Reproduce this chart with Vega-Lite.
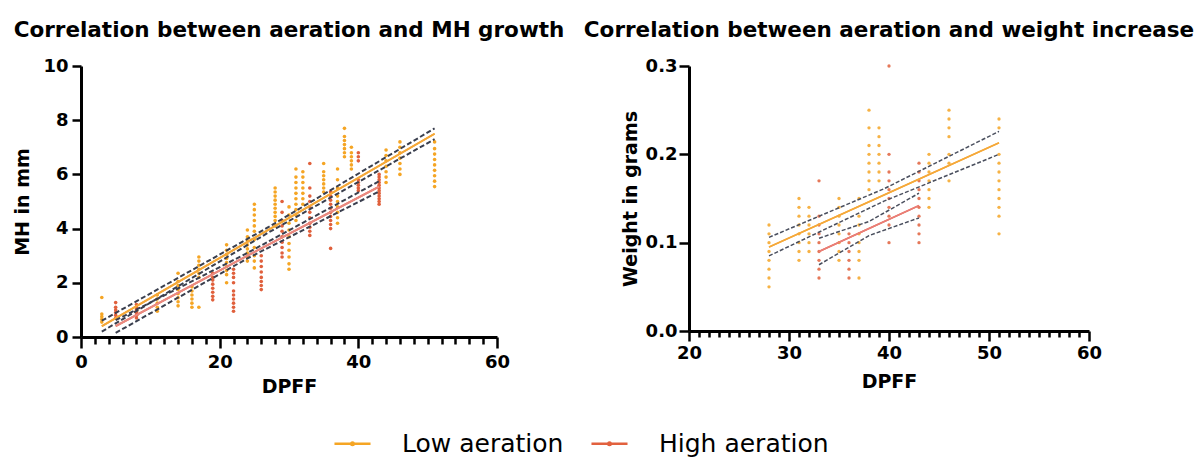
{
 "$schema": "https://vega.github.io/schema/vega-lite/v6.json",
 "background": "white",
 "padding": {"left": 13, "top": 19, "right": 5, "bottom": 5},
 "spacing": 18,
 "config": {
  "view": {"stroke": null},
  "font": "DejaVu Sans",
  "axis": {"domainColor": "black", "domainWidth": 3, "tickColor": "black", "tickWidth": 2.5, "labelFont": "DejaVu Sans", "labelFontWeight": "bold", "labelFontSize": 18, "labelColor": "black", "titleFont": "DejaVu Sans", "titleFontSize": 19, "titleFontWeight": "bold", "titleColor": "black", "grid": false, "labelOverlap": false, "labelFlush": false},
  "title": {"fontSize": 21.5, "fontWeight": "bold", "font": "DejaVu Sans", "color": "black", "frame": "group", "anchor": "middle", "offset": 16}
 },
 "datasets": {
  "mh": [
   {"g":"Low aeration","x":3,"y":0.55},{"g":"Low aeration","x":3,"y":0.65},{"g":"Low aeration","x":3,"y":0.75},{"g":"Low aeration","x":3,"y":0.85},{"g":"Low aeration","x":3,"y":1.46},
   {"g":"Low aeration","x":8,"y":0.8},{"g":"Low aeration","x":8,"y":0.95},{"g":"Low aeration","x":8,"y":1.1},
   {"g":"Low aeration","x":11,"y":0.95},{"g":"Low aeration","x":11,"y":1.1},{"g":"Low aeration","x":11,"y":1.25},{"g":"Low aeration","x":11,"y":1.4},{"g":"Low aeration","x":11,"y":1.55},
   {"g":"Low aeration","x":14,"y":1.15},{"g":"Low aeration","x":14,"y":1.3},{"g":"Low aeration","x":14,"y":1.45},{"g":"Low aeration","x":14,"y":1.6},{"g":"Low aeration","x":14,"y":1.75},{"g":"Low aeration","x":14,"y":1.9},{"g":"Low aeration","x":14,"y":2.05},{"g":"Low aeration","x":14,"y":2.35},
   {"g":"Low aeration","x":16,"y":1.1},{"g":"Low aeration","x":16,"y":1.25},{"g":"Low aeration","x":16,"y":1.4},{"g":"Low aeration","x":16,"y":1.55},{"g":"Low aeration","x":16,"y":1.7},{"g":"Low aeration","x":16,"y":1.85},
   {"g":"Low aeration","x":17,"y":1.1},{"g":"Low aeration","x":17,"y":2.2},{"g":"Low aeration","x":17,"y":2.35},{"g":"Low aeration","x":17,"y":2.5},{"g":"Low aeration","x":17,"y":2.65},{"g":"Low aeration","x":17,"y":2.8},{"g":"Low aeration","x":17,"y":2.95},
   {"g":"Low aeration","x":21,"y":2.0},{"g":"Low aeration","x":21,"y":2.3},{"g":"Low aeration","x":21,"y":2.45},{"g":"Low aeration","x":21,"y":2.6},{"g":"Low aeration","x":21,"y":2.75},{"g":"Low aeration","x":21,"y":2.9},{"g":"Low aeration","x":21,"y":3.05},{"g":"Low aeration","x":21,"y":3.2},{"g":"Low aeration","x":21,"y":3.4},
   {"g":"Low aeration","x":24,"y":2.8},{"g":"Low aeration","x":24,"y":2.95},{"g":"Low aeration","x":24,"y":3.1},{"g":"Low aeration","x":24,"y":3.25},{"g":"Low aeration","x":24,"y":3.4},{"g":"Low aeration","x":24,"y":3.55},{"g":"Low aeration","x":24,"y":3.7},{"g":"Low aeration","x":24,"y":3.95},
   {"g":"Low aeration","x":25,"y":2.55},{"g":"Low aeration","x":25,"y":2.8},{"g":"Low aeration","x":25,"y":3.0},{"g":"Low aeration","x":25,"y":3.3},{"g":"Low aeration","x":25,"y":3.6},{"g":"Low aeration","x":25,"y":3.9},{"g":"Low aeration","x":25,"y":4.1},{"g":"Low aeration","x":25,"y":4.3},{"g":"Low aeration","x":25,"y":4.5},{"g":"Low aeration","x":25,"y":4.7},{"g":"Low aeration","x":25,"y":4.9},
   {"g":"Low aeration","x":28,"y":4.1},{"g":"Low aeration","x":28,"y":4.3},{"g":"Low aeration","x":28,"y":4.45},{"g":"Low aeration","x":28,"y":4.6},{"g":"Low aeration","x":28,"y":4.75},{"g":"Low aeration","x":28,"y":4.9},{"g":"Low aeration","x":28,"y":5.05},{"g":"Low aeration","x":28,"y":5.2},{"g":"Low aeration","x":28,"y":5.35},{"g":"Low aeration","x":28,"y":5.5},
   {"g":"Low aeration","x":30,"y":2.5},{"g":"Low aeration","x":30,"y":2.7},{"g":"Low aeration","x":30,"y":2.95},{"g":"Low aeration","x":30,"y":3.2},{"g":"Low aeration","x":30,"y":3.45},{"g":"Low aeration","x":30,"y":3.7},{"g":"Low aeration","x":30,"y":3.95},{"g":"Low aeration","x":30,"y":4.2},{"g":"Low aeration","x":30,"y":4.5},{"g":"Low aeration","x":30,"y":4.8},
   {"g":"Low aeration","x":31,"y":4.3},{"g":"Low aeration","x":31,"y":4.5},{"g":"Low aeration","x":31,"y":4.7},{"g":"Low aeration","x":31,"y":4.9},{"g":"Low aeration","x":31,"y":5.1},{"g":"Low aeration","x":31,"y":5.3},{"g":"Low aeration","x":31,"y":5.5},{"g":"Low aeration","x":31,"y":5.7},{"g":"Low aeration","x":31,"y":5.9},{"g":"Low aeration","x":31,"y":6.2},
   {"g":"Low aeration","x":32,"y":4.9},{"g":"Low aeration","x":32,"y":5.1},{"g":"Low aeration","x":32,"y":5.3},{"g":"Low aeration","x":32,"y":5.5},{"g":"Low aeration","x":32,"y":5.7},{"g":"Low aeration","x":32,"y":5.9},{"g":"Low aeration","x":32,"y":6.1},
   {"g":"Low aeration","x":35,"y":5.35},{"g":"Low aeration","x":35,"y":5.5},{"g":"Low aeration","x":35,"y":5.65},{"g":"Low aeration","x":35,"y":5.8},{"g":"Low aeration","x":35,"y":5.95},{"g":"Low aeration","x":35,"y":6.1},{"g":"Low aeration","x":35,"y":6.4},
   {"g":"Low aeration","x":37,"y":4.2},{"g":"Low aeration","x":37,"y":4.4},{"g":"Low aeration","x":37,"y":4.6},{"g":"Low aeration","x":37,"y":4.8},{"g":"Low aeration","x":37,"y":5.0},{"g":"Low aeration","x":37,"y":5.2},{"g":"Low aeration","x":37,"y":5.5},{"g":"Low aeration","x":37,"y":5.8},{"g":"Low aeration","x":37,"y":6.2},
   {"g":"Low aeration","x":38,"y":6.65},{"g":"Low aeration","x":38,"y":6.8},{"g":"Low aeration","x":38,"y":6.95},{"g":"Low aeration","x":38,"y":7.1},{"g":"Low aeration","x":38,"y":7.25},{"g":"Low aeration","x":38,"y":7.4},{"g":"Low aeration","x":38,"y":7.7},
   {"g":"Low aeration","x":39,"y":6.2},{"g":"Low aeration","x":39,"y":6.35},{"g":"Low aeration","x":39,"y":6.5},{"g":"Low aeration","x":39,"y":6.65},{"g":"Low aeration","x":39,"y":6.8},{"g":"Low aeration","x":39,"y":7.0},
   {"g":"Low aeration","x":44,"y":5.7},{"g":"Low aeration","x":44,"y":5.9},{"g":"Low aeration","x":44,"y":6.1},{"g":"Low aeration","x":44,"y":6.3},{"g":"Low aeration","x":44,"y":6.5},{"g":"Low aeration","x":44,"y":6.7},{"g":"Low aeration","x":44,"y":6.9},
   {"g":"Low aeration","x":46,"y":6.0},{"g":"Low aeration","x":46,"y":6.2},{"g":"Low aeration","x":46,"y":6.4},{"g":"Low aeration","x":46,"y":6.6},{"g":"Low aeration","x":46,"y":6.8},{"g":"Low aeration","x":46,"y":7.0},{"g":"Low aeration","x":46,"y":7.2},
   {"g":"Low aeration","x":51,"y":5.55},{"g":"Low aeration","x":51,"y":5.75},{"g":"Low aeration","x":51,"y":5.95},{"g":"Low aeration","x":51,"y":6.15},{"g":"Low aeration","x":51,"y":6.35},{"g":"Low aeration","x":51,"y":6.55},{"g":"Low aeration","x":51,"y":6.75},{"g":"Low aeration","x":51,"y":6.95},{"g":"Low aeration","x":51,"y":7.2},
   {"g":"High aeration","x":5,"y":0.7},{"g":"High aeration","x":5,"y":0.8},{"g":"High aeration","x":5,"y":0.9},{"g":"High aeration","x":5,"y":1.0},{"g":"High aeration","x":5,"y":1.1},{"g":"High aeration","x":5,"y":1.27},
   {"g":"High aeration","x":8,"y":0.7},{"g":"High aeration","x":8,"y":0.8},{"g":"High aeration","x":8,"y":0.9},{"g":"High aeration","x":8,"y":1.0},{"g":"High aeration","x":8,"y":1.1},{"g":"High aeration","x":8,"y":1.2},
   {"g":"High aeration","x":19,"y":1.37},{"g":"High aeration","x":19,"y":1.5},{"g":"High aeration","x":19,"y":1.65},{"g":"High aeration","x":19,"y":1.8},{"g":"High aeration","x":19,"y":1.95},{"g":"High aeration","x":19,"y":2.1},{"g":"High aeration","x":19,"y":2.2},{"g":"High aeration","x":19,"y":2.35},
   {"g":"High aeration","x":22,"y":0.95},{"g":"High aeration","x":22,"y":1.1},{"g":"High aeration","x":22,"y":1.25},{"g":"High aeration","x":22,"y":1.4},{"g":"High aeration","x":22,"y":1.55},{"g":"High aeration","x":22,"y":1.7},{"g":"High aeration","x":22,"y":2.0},{"g":"High aeration","x":22,"y":2.2},{"g":"High aeration","x":22,"y":2.35},{"g":"High aeration","x":22,"y":2.5},
   {"g":"High aeration","x":26,"y":1.75},{"g":"High aeration","x":26,"y":1.9},{"g":"High aeration","x":26,"y":2.05},{"g":"High aeration","x":26,"y":2.2},{"g":"High aeration","x":26,"y":2.4},{"g":"High aeration","x":26,"y":2.6},{"g":"High aeration","x":26,"y":2.8},{"g":"High aeration","x":26,"y":3.0},
   {"g":"High aeration","x":29,"y":2.95},{"g":"High aeration","x":29,"y":3.1},{"g":"High aeration","x":29,"y":3.3},{"g":"High aeration","x":29,"y":3.5},{"g":"High aeration","x":29,"y":3.7},{"g":"High aeration","x":29,"y":3.9},{"g":"High aeration","x":29,"y":4.1},{"g":"High aeration","x":29,"y":4.3},{"g":"High aeration","x":29,"y":4.6},{"g":"High aeration","x":29,"y":5.0},
   {"g":"High aeration","x":33,"y":3.75},{"g":"High aeration","x":33,"y":3.9},{"g":"High aeration","x":33,"y":4.05},{"g":"High aeration","x":33,"y":4.2},{"g":"High aeration","x":33,"y":4.4},{"g":"High aeration","x":33,"y":4.6},{"g":"High aeration","x":33,"y":4.8},{"g":"High aeration","x":33,"y":5.0},{"g":"High aeration","x":33,"y":5.2},{"g":"High aeration","x":33,"y":5.5},{"g":"High aeration","x":33,"y":6.4},
   {"g":"High aeration","x":36,"y":3.27},{"g":"High aeration","x":36,"y":4.0},{"g":"High aeration","x":36,"y":4.15},{"g":"High aeration","x":36,"y":4.3},{"g":"High aeration","x":36,"y":4.45},{"g":"High aeration","x":36,"y":4.6},{"g":"High aeration","x":36,"y":4.75},{"g":"High aeration","x":36,"y":4.9},{"g":"High aeration","x":36,"y":5.05},{"g":"High aeration","x":36,"y":5.2},{"g":"High aeration","x":36,"y":5.36},
   {"g":"High aeration","x":40,"y":5.4},{"g":"High aeration","x":40,"y":5.5},{"g":"High aeration","x":40,"y":5.6},{"g":"High aeration","x":40,"y":5.7},{"g":"High aeration","x":40,"y":5.8},{"g":"High aeration","x":40,"y":6.5},{"g":"High aeration","x":40,"y":6.65},{"g":"High aeration","x":40,"y":6.8},
   {"g":"High aeration","x":43,"y":4.9},{"g":"High aeration","x":43,"y":5.0},{"g":"High aeration","x":43,"y":5.1},{"g":"High aeration","x":43,"y":5.2},{"g":"High aeration","x":43,"y":5.3},{"g":"High aeration","x":43,"y":5.4},{"g":"High aeration","x":43,"y":5.5},{"g":"High aeration","x":43,"y":5.6},{"g":"High aeration","x":43,"y":5.7},{"g":"High aeration","x":43,"y":5.8},{"g":"High aeration","x":43,"y":5.9},{"g":"High aeration","x":43,"y":6.0}
  ],
  "mhfit": [
   {"g":"Low aeration","x":3,"fit":0.4,"lo":0.2,"hi":0.6},
   {"g":"Low aeration","x":27,"fit":3.95,"lo":3.85,"hi":4.05},
   {"g":"Low aeration","x":51,"fit":7.5,"lo":7.3,"hi":7.7},
   {"g":"High aeration","x":5,"fit":0.4,"lo":0.15,"hi":0.62},
   {"g":"High aeration","x":24,"fit":3.0,"lo":2.9,"hi":3.1},
   {"g":"High aeration","x":43,"fit":5.55,"lo":5.37,"hi":5.75}
  ],
  "wt": [
   {"g":"Low aeration","x":28,"y":0.05},{"g":"Low aeration","x":28,"y":0.06},{"g":"Low aeration","x":28,"y":0.07},{"g":"Low aeration","x":28,"y":0.08},{"g":"Low aeration","x":28,"y":0.09},{"g":"Low aeration","x":28,"y":0.10},{"g":"Low aeration","x":28,"y":0.11},{"g":"Low aeration","x":28,"y":0.12},
   {"g":"Low aeration","x":31,"y":0.08},{"g":"Low aeration","x":31,"y":0.09},{"g":"Low aeration","x":31,"y":0.10},{"g":"Low aeration","x":31,"y":0.11},{"g":"Low aeration","x":31,"y":0.12},{"g":"Low aeration","x":31,"y":0.13},{"g":"Low aeration","x":31,"y":0.14},{"g":"Low aeration","x":31,"y":0.15},
   {"g":"Low aeration","x":32,"y":0.09},{"g":"Low aeration","x":32,"y":0.10},{"g":"Low aeration","x":32,"y":0.11},{"g":"Low aeration","x":32,"y":0.12},{"g":"Low aeration","x":32,"y":0.13},{"g":"Low aeration","x":32,"y":0.14},
   {"g":"Low aeration","x":35,"y":0.08},{"g":"Low aeration","x":35,"y":0.09},{"g":"Low aeration","x":35,"y":0.10},{"g":"Low aeration","x":35,"y":0.11},{"g":"Low aeration","x":35,"y":0.12},{"g":"Low aeration","x":35,"y":0.13},{"g":"Low aeration","x":35,"y":0.14},{"g":"Low aeration","x":35,"y":0.15},
   {"g":"Low aeration","x":37,"y":0.06},{"g":"Low aeration","x":37,"y":0.08},{"g":"Low aeration","x":37,"y":0.09},{"g":"Low aeration","x":37,"y":0.10},{"g":"Low aeration","x":37,"y":0.11},{"g":"Low aeration","x":37,"y":0.12},{"g":"Low aeration","x":37,"y":0.13},{"g":"Low aeration","x":37,"y":0.15},
   {"g":"Low aeration","x":38,"y":0.16},{"g":"Low aeration","x":38,"y":0.17},{"g":"Low aeration","x":38,"y":0.18},{"g":"Low aeration","x":38,"y":0.19},{"g":"Low aeration","x":38,"y":0.20},{"g":"Low aeration","x":38,"y":0.21},{"g":"Low aeration","x":38,"y":0.23},{"g":"Low aeration","x":38,"y":0.25},
   {"g":"Low aeration","x":39,"y":0.17},{"g":"Low aeration","x":39,"y":0.18},{"g":"Low aeration","x":39,"y":0.19},{"g":"Low aeration","x":39,"y":0.20},{"g":"Low aeration","x":39,"y":0.21},{"g":"Low aeration","x":39,"y":0.22},{"g":"Low aeration","x":39,"y":0.23},
   {"g":"Low aeration","x":44,"y":0.14},{"g":"Low aeration","x":44,"y":0.15},{"g":"Low aeration","x":44,"y":0.16},{"g":"Low aeration","x":44,"y":0.17},{"g":"Low aeration","x":44,"y":0.18},{"g":"Low aeration","x":44,"y":0.19},{"g":"Low aeration","x":44,"y":0.20},
   {"g":"Low aeration","x":46,"y":0.17},{"g":"Low aeration","x":46,"y":0.19},{"g":"Low aeration","x":46,"y":0.20},{"g":"Low aeration","x":46,"y":0.22},{"g":"Low aeration","x":46,"y":0.23},{"g":"Low aeration","x":46,"y":0.24},{"g":"Low aeration","x":46,"y":0.25},
   {"g":"Low aeration","x":51,"y":0.11},{"g":"Low aeration","x":51,"y":0.13},{"g":"Low aeration","x":51,"y":0.14},{"g":"Low aeration","x":51,"y":0.15},{"g":"Low aeration","x":51,"y":0.16},{"g":"Low aeration","x":51,"y":0.17},{"g":"Low aeration","x":51,"y":0.18},{"g":"Low aeration","x":51,"y":0.19},{"g":"Low aeration","x":51,"y":0.20},{"g":"Low aeration","x":51,"y":0.23},{"g":"Low aeration","x":51,"y":0.24},
   {"g":"High aeration","x":33,"y":0.06},{"g":"High aeration","x":33,"y":0.07},{"g":"High aeration","x":33,"y":0.08},{"g":"High aeration","x":33,"y":0.09},{"g":"High aeration","x":33,"y":0.10},{"g":"High aeration","x":33,"y":0.11},{"g":"High aeration","x":33,"y":0.12},{"g":"High aeration","x":33,"y":0.13},{"g":"High aeration","x":33,"y":0.17},
   {"g":"High aeration","x":36,"y":0.06},{"g":"High aeration","x":36,"y":0.07},{"g":"High aeration","x":36,"y":0.08},{"g":"High aeration","x":36,"y":0.09},{"g":"High aeration","x":36,"y":0.10},{"g":"High aeration","x":36,"y":0.11},
   {"g":"High aeration","x":40,"y":0.10},{"g":"High aeration","x":40,"y":0.12},{"g":"High aeration","x":40,"y":0.13},{"g":"High aeration","x":40,"y":0.14},{"g":"High aeration","x":40,"y":0.15},{"g":"High aeration","x":40,"y":0.16},{"g":"High aeration","x":40,"y":0.17},{"g":"High aeration","x":40,"y":0.18},{"g":"High aeration","x":40,"y":0.20},{"g":"High aeration","x":40,"y":0.30},
   {"g":"High aeration","x":43,"y":0.10},{"g":"High aeration","x":43,"y":0.11},{"g":"High aeration","x":43,"y":0.12},{"g":"High aeration","x":43,"y":0.13},{"g":"High aeration","x":43,"y":0.14},{"g":"High aeration","x":43,"y":0.15},{"g":"High aeration","x":43,"y":0.16},{"g":"High aeration","x":43,"y":0.17},{"g":"High aeration","x":43,"y":0.18},{"g":"High aeration","x":43,"y":0.19}
  ],
  "wtfit": [
   {"g":"Low aeration","x":28,"fit":0.095,"lo":0.085,"hi":0.106},
   {"g":"Low aeration","x":39.5,"fit":0.154,"lo":0.147,"hi":0.161},
   {"g":"Low aeration","x":51,"fit":0.213,"lo":0.2,"hi":0.226},
   {"g":"High aeration","x":33,"fit":0.09,"lo":0.075,"hi":0.105},
   {"g":"High aeration","x":38,"fit":0.116,"lo":0.108,"hi":0.124},
   {"g":"High aeration","x":43,"fit":0.142,"lo":0.128,"hi":0.156}
  ]
 },
 "hconcat": [
  {
   "title": {"text": "Correlation between aeration and MH growth"},
   "width": 416,
   "height": 271,
   "layer": [
    {
     "data": {"name": "mh"},
     "mark": {"type": "circle", "size": 13, "opacity": 1},
     "encoding": {
      "x": {"field": "x", "type": "quantitative", "scale": {"domain": [0, 60], "nice": false}, "axis": {"title": "DPFF", "format": "d", "labelOverlap": false, "tickCount": 100, "values": [0,2,4,6,8,10,12,14,16,18,20,22,24,26,28,30,32,34,36,38,40,42,44,46,48,50,52,54,56,58,60], "labelExpr": "datum.value % 20 === 0 ? datum.label : ''", "tickSize": {"condition": {"test": "datum.value % 20 === 0", "value": 11}, "value": 7}, "labelPadding": 5, "titlePadding": 6}},
      "y": {"field": "y", "type": "quantitative", "scale": {"domain": [0, 10], "nice": false}, "axis": {"title": "MH in mm", "format": "d", "labelOverlap": false, "tickCount": 100, "values": [0,2,4,6,8,10], "tickSize": 9, "labelPadding": 4, "titlePadding": 10}},
      "color": {"field": "g", "type": "nominal", "scale": {"domain": ["Low aeration", "High aeration"], "range": ["#F5A524", "#E0603C"]},
       "legend": {"orient": "none", "legendX": 252, "legendY": 358, "direction": "horizontal", "title": null, "symbolType": "M-1,0H1M-0.07,0A0.07,0.07 0 1,0 0.07,0A0.07,0.07 0 1,0 -0.07,0", "symbolSize": 1300, "symbolStrokeWidth": 2.5, "labelFontSize": 25, "labelFont": "DejaVu Sans", "labelFontWeight": "normal", "labelColor": "black", "labelOffset": 30, "labelLimit": 400, "columnPadding": 22}}
     }
    },
    {
     "data": {"name": "mhfit"},
     "mark": {"type": "line", "strokeWidth": 1.8},
     "encoding": {
      "x": {"field": "x", "type": "quantitative"},
      "y": {"field": "fit", "type": "quantitative"},
      "stroke": {"field": "g", "type": "nominal", "scale": {"domain": ["Low aeration", "High aeration"], "range": ["#F5A524", "#E2613E"]}, "legend": null}
     }
    },
    {
     "data": {"name": "mhfit"},
     "transform": [{"filter": "datum.g === 'Low aeration'"}],
     "mark": {"type": "line", "strokeWidth": 2, "color": "#F5A83A"},
     "encoding": {
      "x": {"field": "x", "type": "quantitative"},
      "y": {"field": "fit", "type": "quantitative"}
     }
    },
    {
     "data": {"name": "mhfit"},
     "transform": [{"filter": "datum.g === 'High aeration'"}],
     "mark": {"type": "line", "strokeWidth": 2, "color": "#EA8A82"},
     "encoding": {
      "x": {"field": "x", "type": "quantitative"},
      "y": {"field": "fit", "type": "quantitative"}
     }
    },
    {
     "data": {"name": "mhfit"},
     "mark": {"type": "line", "strokeWidth": 2, "color": "#3A3F4E", "strokeDash": [5, 2.5]},
     "encoding": {
      "x": {"field": "x", "type": "quantitative"},
      "y": {"field": "lo", "type": "quantitative"},
      "detail": {"field": "g", "type": "nominal"}
     }
    },
    {
     "data": {"name": "mhfit"},
     "mark": {"type": "line", "strokeWidth": 2, "color": "#3A3F4E", "strokeDash": [5, 2.5]},
     "encoding": {
      "x": {"field": "x", "type": "quantitative"},
      "y": {"field": "hi", "type": "quantitative"},
      "detail": {"field": "g", "type": "nominal"}
     }
    }
   ]
  },
  {
   "title": {"text": "Correlation between aeration and weight increase"},
   "width": 400,
   "height": 265,
   "layer": [
    {
     "data": {"name": "wt"},
     "mark": {"type": "circle", "size": 11, "opacity": 0.85},
     "encoding": {
      "x": {"field": "x", "type": "quantitative", "scale": {"domain": [20, 60], "nice": false, "zero": false}, "axis": {"title": "DPFF", "format": "d", "labelOverlap": false, "tickCount": 100, "values": [20,21,22,23,24,25,26,27,28,29,30,31,32,33,34,35,36,37,38,39,40,41,42,43,44,45,46,47,48,49,50,51,52,53,54,55,56,57,58,59,60], "labelExpr": "datum.value % 10 === 0 ? datum.label : ''", "tickSize": {"condition": {"test": "datum.value % 10 === 0", "value": 10}, "value": 6}, "labelPadding": 3, "titlePadding": 10}},
      "y": {"field": "y", "type": "quantitative", "scale": {"domain": [0, 0.3], "nice": false}, "axis": {"title": "Weight in grams", "labelOverlap": false, "tickCount": 100, "values": [0, 0.1, 0.2, 0.3], "format": ".1f", "tickSize": 10, "labelPadding": 2, "titlePadding": 5}},
      "color": {"field": "g", "type": "nominal"}
     }
    },
    {
     "data": {"name": "wtfit"},
     "mark": {"type": "line", "strokeWidth": 1.5},
     "encoding": {
      "x": {"field": "x", "type": "quantitative"},
      "y": {"field": "fit", "type": "quantitative"},
      "stroke": {"field": "g", "type": "nominal", "legend": null}
     }
    },
    {
     "data": {"name": "wtfit"},
     "transform": [{"filter": "datum.g === 'Low aeration'"}],
     "mark": {"type": "line", "strokeWidth": 1.7, "color": "#F5A83A"},
     "encoding": {
      "x": {"field": "x", "type": "quantitative"},
      "y": {"field": "fit", "type": "quantitative"}
     }
    },
    {
     "data": {"name": "wtfit"},
     "transform": [{"filter": "datum.g === 'High aeration'"}],
     "mark": {"type": "line", "strokeWidth": 1.7, "color": "#EA7E78"},
     "encoding": {
      "x": {"field": "x", "type": "quantitative"},
      "y": {"field": "fit", "type": "quantitative"}
     }
    },
    {
     "data": {"name": "wtfit"},
     "mark": {"type": "line", "strokeWidth": 1.5, "color": "#4A4F5E", "strokeDash": [4, 2]},
     "encoding": {
      "x": {"field": "x", "type": "quantitative"},
      "y": {"field": "lo", "type": "quantitative"},
      "detail": {"field": "g", "type": "nominal"}
     }
    },
    {
     "data": {"name": "wtfit"},
     "mark": {"type": "line", "strokeWidth": 1.5, "color": "#4A4F5E", "strokeDash": [4, 2]},
     "encoding": {
      "x": {"field": "x", "type": "quantitative"},
      "y": {"field": "hi", "type": "quantitative"},
      "detail": {"field": "g", "type": "nominal"}
     }
    }
   ]
  }
 ]
}
